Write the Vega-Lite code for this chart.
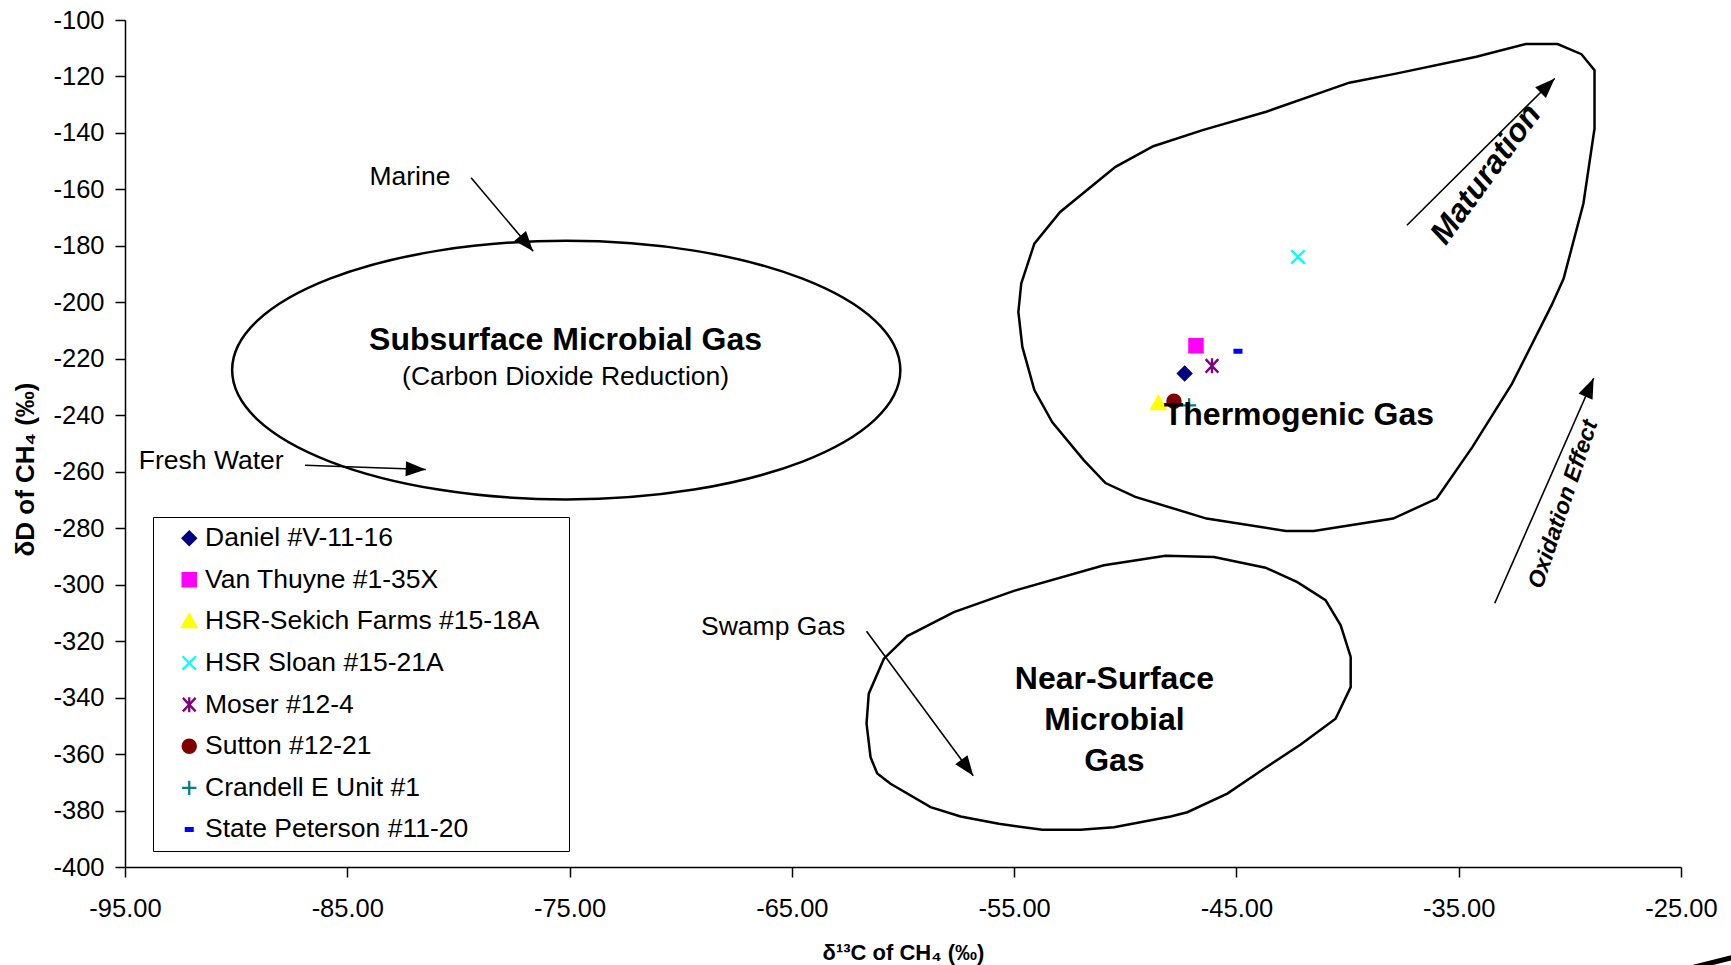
{
  "$schema": "https://vega.github.io/schema/vega-lite/v6.json",
  "autosize": {"type": "none"},
  "padding": {"left": 125, "top": 20, "right": 51, "bottom": 98},
  "width": 1556,
  "height": 847,
  "background": "white",
  "config": {
    "view": {"stroke": null},
    "font": "Liberation Sans",
    "axis": {
      "grid": false,
      "domainColor": "black",
      "domainWidth": 1.5,
      "tickColor": "black",
      "tickWidth": 1.5,
      "tickSize": 10,
      "labelColor": "black",
      "labelFont": "Liberation Sans",
      "labelFontSize": 25.5,
      "labelFlush": false,
      "labelOverlap": false,
      "titleColor": "black",
      "titleFont": "Liberation Sans",
      "titleFontWeight": "bold"
    }
  },
  "datasets": {
    "wells": [
      {"well": "Daniel #V-11-16", "d13C": -47.33, "dD": -225.2},
      {"well": "Van Thuyne #1-35X", "d13C": -46.82, "dD": -215.4},
      {"well": "HSR-Sekich Farms #15-18A", "d13C": -48.51, "dD": -235.8},
      {"well": "HSR Sloan #15-21A", "d13C": -42.23, "dD": -183.9},
      {"well": "Moser #12-4", "d13C": -46.1, "dD": -222.5},
      {"well": "Sutton #12-21", "d13C": -47.81, "dD": -235.0},
      {"well": "Crandell E Unit #1", "d13C": -47.13, "dD": -236.5},
      {"well": "State Peterson #11-20", "d13C": -44.93, "dD": -217.3}
    ],
    "ellipse": [
      {"i": 0, "x": -60.12, "y": -224.0},
      {"i": 1, "x": -61.26, "y": -206.47},
      {"i": 2, "x": -64.52, "y": -191.61},
      {"i": 3, "x": -69.4, "y": -181.69},
      {"i": 4, "x": -75.15, "y": -178.2},
      {"i": 5, "x": -80.9, "y": -181.69},
      {"i": 6, "x": -85.78, "y": -191.61},
      {"i": 7, "x": -89.04, "y": -206.47},
      {"i": 8, "x": -90.18, "y": -224.0},
      {"i": 9, "x": -89.04, "y": -241.53},
      {"i": 10, "x": -85.78, "y": -256.39},
      {"i": 11, "x": -80.9, "y": -266.31},
      {"i": 12, "x": -75.15, "y": -269.8},
      {"i": 13, "x": -69.4, "y": -266.31},
      {"i": 14, "x": -64.52, "y": -256.39},
      {"i": 15, "x": -61.26, "y": -241.53}
    ],
    "outlines": [
      {"region": "Thermogenic", "i": 1, "x": -31.98, "y": -108.5},
      {"region": "Thermogenic", "i": 2, "x": -30.55, "y": -108.5},
      {"region": "Thermogenic", "i": 3, "x": -29.48, "y": -112.1},
      {"region": "Thermogenic", "i": 4, "x": -28.89, "y": -117.8},
      {"region": "Thermogenic", "i": 5, "x": -28.89, "y": -138.4},
      {"region": "Thermogenic", "i": 6, "x": -29.39, "y": -165.0},
      {"region": "Thermogenic", "i": 7, "x": -30.28, "y": -191.6},
      {"region": "Thermogenic", "i": 8, "x": -30.82, "y": -201.0},
      {"region": "Thermogenic", "i": 9, "x": -32.6, "y": -228.8},
      {"region": "Thermogenic", "i": 10, "x": -34.38, "y": -251.2},
      {"region": "Thermogenic", "i": 11, "x": -35.99, "y": -269.5},
      {"region": "Thermogenic", "i": 12, "x": -37.95, "y": -276.6},
      {"region": "Thermogenic", "i": 13, "x": -41.52, "y": -281.0},
      {"region": "Thermogenic", "i": 14, "x": -42.77, "y": -281.0},
      {"region": "Thermogenic", "i": 15, "x": -46.34, "y": -276.6},
      {"region": "Thermogenic", "i": 16, "x": -49.55, "y": -268.9},
      {"region": "Thermogenic", "i": 17, "x": -50.89, "y": -264.0},
      {"region": "Thermogenic", "i": 18, "x": -51.87, "y": -255.9},
      {"region": "Thermogenic", "i": 19, "x": -53.29, "y": -242.4},
      {"region": "Thermogenic", "i": 20, "x": -54.09, "y": -231.1},
      {"region": "Thermogenic", "i": 21, "x": -54.63, "y": -215.8},
      {"region": "Thermogenic", "i": 22, "x": -54.81, "y": -203.4},
      {"region": "Thermogenic", "i": 23, "x": -54.68, "y": -193.3},
      {"region": "Thermogenic", "i": 24, "x": -54.09, "y": -179.2},
      {"region": "Thermogenic", "i": 25, "x": -52.93, "y": -168.0},
      {"region": "Thermogenic", "i": 26, "x": -50.44, "y": -152.0},
      {"region": "Thermogenic", "i": 27, "x": -48.74, "y": -144.7},
      {"region": "Thermogenic", "i": 28, "x": -46.52, "y": -139.0},
      {"region": "Thermogenic", "i": 29, "x": -43.66, "y": -132.5},
      {"region": "Thermogenic", "i": 30, "x": -39.92, "y": -122.2},
      {"region": "Thermogenic", "i": 31, "x": -37.77, "y": -118.9},
      {"region": "Thermogenic", "i": 32, "x": -34.21, "y": -113.0},
      {"region": "NearSurface", "i": 1, "x": -48.19, "y": -289.8},
      {"region": "NearSurface", "i": 2, "x": -46.01, "y": -290.2},
      {"region": "NearSurface", "i": 3, "x": -43.69, "y": -294.0},
      {"region": "NearSurface", "i": 4, "x": -42.26, "y": -299.1},
      {"region": "NearSurface", "i": 5, "x": -40.99, "y": -305.5},
      {"region": "NearSurface", "i": 6, "x": -40.31, "y": -314.4},
      {"region": "NearSurface", "i": 7, "x": -39.86, "y": -325.6},
      {"region": "NearSurface", "i": 8, "x": -39.86, "y": -336.3},
      {"region": "NearSurface", "i": 9, "x": -40.54, "y": -347.5},
      {"region": "NearSurface", "i": 10, "x": -42.11, "y": -356.6},
      {"region": "NearSurface", "i": 11, "x": -43.76, "y": -365.2},
      {"region": "NearSurface", "i": 12, "x": -45.41, "y": -374.0},
      {"region": "NearSurface", "i": 13, "x": -47.21, "y": -380.6},
      {"region": "NearSurface", "i": 14, "x": -47.96, "y": -382.1},
      {"region": "NearSurface", "i": 15, "x": -50.51, "y": -385.9},
      {"region": "NearSurface", "i": 16, "x": -52.01, "y": -386.8},
      {"region": "NearSurface", "i": 17, "x": -53.73, "y": -386.8},
      {"region": "NearSurface", "i": 18, "x": -55.69, "y": -384.7},
      {"region": "NearSurface", "i": 19, "x": -57.41, "y": -382.1},
      {"region": "NearSurface", "i": 20, "x": -58.76, "y": -378.8},
      {"region": "NearSurface", "i": 21, "x": -60.56, "y": -370.5},
      {"region": "NearSurface", "i": 22, "x": -61.16, "y": -366.9},
      {"region": "NearSurface", "i": 23, "x": -61.46, "y": -361.1},
      {"region": "NearSurface", "i": 24, "x": -61.64, "y": -349.2},
      {"region": "NearSurface", "i": 25, "x": -61.54, "y": -338.6},
      {"region": "NearSurface", "i": 26, "x": -60.86, "y": -326.2},
      {"region": "NearSurface", "i": 27, "x": -59.81, "y": -318.2},
      {"region": "NearSurface", "i": 28, "x": -57.71, "y": -309.7},
      {"region": "NearSurface", "i": 29, "x": -55.01, "y": -302.2},
      {"region": "NearSurface", "i": 30, "x": -50.96, "y": -293.1}
    ],
    "arrows": [
      {"arrow": "Marine", "part": 0, "x": -79.43, "y": -155.9},
      {"arrow": "Marine", "part": 1, "x": -76.64, "y": -181.9},
      {"arrow": "Fresh Water", "part": 0, "x": -86.9, "y": -257.7},
      {"arrow": "Fresh Water", "part": 1, "x": -81.47, "y": -259.2},
      {"arrow": "Swamp Gas", "part": 0, "x": -61.64, "y": -316.5},
      {"arrow": "Swamp Gas", "part": 1, "x": -56.84, "y": -367.7},
      {"arrow": "Maturation", "part": 0, "x": -37.33, "y": -172.7},
      {"arrow": "Maturation", "part": 1, "x": -30.68, "y": -120.7},
      {"arrow": "Oxidation", "part": 0, "x": -33.38, "y": -306.6},
      {"arrow": "Oxidation", "part": 1, "x": -28.93, "y": -226.9}
    ],
    "corner": [
      {"part": 0, "x": -24.42, "y": -435.5},
      {"part": 1, "x": -22.3, "y": -431.3}
    ],
    "notes": [
      {"text": "Marine", "kind": "note", "x": -82.18, "y": -155.5},
      {"text": "Fresh Water", "kind": "note", "x": -91.12, "y": -256.1},
      {"text": "Swamp Gas", "kind": "note", "x": -65.84, "y": -315.1},
      {"text": "(Carbon Dioxide Reduction)", "kind": "note", "x": -75.18, "y": -226.4},
      {"text": "Subsurface Microbial Gas", "kind": "region", "x": -75.18, "y": -213.4},
      {"text": "Thermogenic Gas", "kind": "region", "x": -42.19, "y": -240.0},
      {"text": "Near-Surface", "kind": "region", "x": -50.49, "y": -333.5},
      {"text": "Microbial", "kind": "region", "x": -50.49, "y": -348.0},
      {"text": "Gas", "kind": "region", "x": -50.49, "y": -362.5},
      {"text": "Maturation", "kind": "maturation", "x": -33.78, "y": -154.6},
      {"text": "Oxidation Effect", "kind": "oxidation", "x": -30.3, "y": -271.5}
    ]
  },
  "encoding": {
    "x": {
      "type": "quantitative",
      "scale": {"domain": [-95, -25], "nice": false, "zero": false},
      "axis": {
        "title": "δ¹³C of CH₄ (‰)",
        "titleFontSize": 22,
        "values": [-95, -85, -75, -65, -55, -45, -35, -25],
        "format": ".2f",
        "labelExpr": "replace(datum.label, '\u2212', '-')",
        "labelPadding": 19,
        "titleY": 85,
        "titleBaseline": "middle"
      }
    },
    "y": {
      "type": "quantitative",
      "scale": {"domain": [-400, -100], "nice": false, "zero": false},
      "axis": {
        "title": "δD of CH₄ (‰)",
        "titleFontSize": 26,
        "values": [-400, -380, -360, -340, -320, -300, -280, -260, -240, -220, -200, -180, -160, -140, -120, -100],
        "format": "d",
        "labelExpr": "replace(datum.label, '\u2212', '-')",
        "labelPadding": 11,
        "titleAngle": 270,
        "titleX": -100,
        "titleY": 449,
        "titleAlign": "center",
        "titleBaseline": "middle"
      }
    }
  },
  "layer": [
    {
      "data": {"name": "ellipse"},
      "mark": {"type": "line", "interpolate": "cardinal-closed", "color": "black", "strokeWidth": 2.5},
      "encoding": {
        "x": {"field": "x", "type": "quantitative"},
        "y": {"field": "y", "type": "quantitative"},
        "order": {"field": "i", "type": "quantitative"}
      }
    },
    {
      "data": {"name": "outlines"},
      "mark": {"type": "line", "interpolate": "linear-closed", "color": "black", "strokeWidth": 2.5},
      "encoding": {
        "x": {"field": "x", "type": "quantitative"},
        "y": {"field": "y", "type": "quantitative"},
        "detail": {"field": "region", "type": "nominal"},
        "order": {"field": "i", "type": "quantitative"}
      }
    },
    {
      "data": {"name": "arrows"},
      "mark": {"type": "line", "color": "black", "strokeWidth": 1.6},
      "encoding": {
        "x": {"field": "x", "type": "quantitative"},
        "y": {"field": "y", "type": "quantitative"},
        "detail": {"field": "arrow", "type": "nominal"},
        "order": {"field": "part", "type": "quantitative"}
      }
    },
    {
      "data": {"name": "corner"},
      "mark": {"type": "line", "color": "black", "strokeWidth": 5, "clip": false},
      "encoding": {
        "x": {"field": "x", "type": "quantitative"},
        "y": {"field": "y", "type": "quantitative"},
        "order": {"field": "part", "type": "quantitative"}
      }
    },
    {
      "data": {"name": "arrows"},
      "transform": [{"filter": "datum.part == 1 && datum.arrow == 'Marine'"}],
      "mark": {"type": "point", "shape": "M0,0L-0.38,1L0.38,1Z", "size": 1600, "filled": true, "color": "black", "opacity": 1, "angle": 139.8},
      "encoding": {"x": {"field": "x", "type": "quantitative"}, "y": {"field": "y", "type": "quantitative"}}
    },
    {
      "data": {"name": "arrows"},
      "transform": [{"filter": "datum.part == 1 && datum.arrow == 'Fresh Water'"}],
      "mark": {"type": "point", "shape": "M0,0L-0.38,1L0.38,1Z", "size": 1600, "filled": true, "color": "black", "opacity": 1, "angle": 92},
      "encoding": {"x": {"field": "x", "type": "quantitative"}, "y": {"field": "y", "type": "quantitative"}}
    },
    {
      "data": {"name": "arrows"},
      "transform": [{"filter": "datum.part == 1 && datum.arrow == 'Swamp Gas'"}],
      "mark": {"type": "point", "shape": "M0,0L-0.38,1L0.38,1Z", "size": 1600, "filled": true, "color": "black", "opacity": 1, "angle": 143.6},
      "encoding": {"x": {"field": "x", "type": "quantitative"}, "y": {"field": "y", "type": "quantitative"}}
    },
    {
      "data": {"name": "arrows"},
      "transform": [{"filter": "datum.part == 1 && datum.arrow == 'Maturation'"}],
      "mark": {"type": "point", "shape": "M0,0L-0.38,1L0.38,1Z", "size": 1600, "filled": true, "color": "black", "opacity": 1, "angle": 45.2},
      "encoding": {"x": {"field": "x", "type": "quantitative"}, "y": {"field": "y", "type": "quantitative"}}
    },
    {
      "data": {"name": "arrows"},
      "transform": [{"filter": "datum.part == 1 && datum.arrow == 'Oxidation'"}],
      "mark": {"type": "point", "shape": "M0,0L-0.38,1L0.38,1Z", "size": 1600, "filled": true, "color": "black", "opacity": 1, "angle": 23.75},
      "encoding": {"x": {"field": "x", "type": "quantitative"}, "y": {"field": "y", "type": "quantitative"}}
    },
    {
      "data": {"name": "wells"},
      "mark": {"type": "point", "filled": true, "opacity": 1, "size": 225, "strokeWidth": 2.3},
      "encoding": {
        "x": {"field": "d13C", "type": "quantitative"},
        "y": {"field": "dD", "type": "quantitative"},
        "shape": {
          "field": "well", "type": "nominal",
          "scale": {
            "domain": ["Daniel #V-11-16", "Van Thuyne #1-35X", "HSR-Sekich Farms #15-18A", "HSR Sloan #15-21A", "Moser #12-4", "Sutton #12-21", "Crandell E Unit #1", "State Peterson #11-20"],
            "range": ["M0,-0.88L0.88,0L0,0.88L-0.88,0Z", "M-0.88,-0.88L0.88,-0.88L0.88,0.88L-0.88,0.88Z", "M0,-0.95L0.95,0.75L-0.95,0.75Z", "M-0.9,-0.9L0.9,0.9M-0.9,0.9L0.9,-0.9", "M-0.85,-0.9L0.85,0.9M-0.85,0.9L0.85,-0.9M0,-1L0,1", "M-0.88,0A0.88,0.88,0,1,0,0.88,0A0.88,0.88,0,1,0,-0.88,0Z", "M0,-0.95L0,0.95M-0.95,0L0.95,0", "M-0.45,-0.18L0.45,-0.18L0.45,0.18L-0.45,0.18Z"]
          },
          "legend": {"title": " ", "titleOrient": "right", "titleFontSize": 10, "titlePadding": 22, "orient": "none", "legendX": 28, "legendY": 497, "strokeColor": "black", "fillColor": "white", "padding": 8, "labelFontSize": 26.5, "labelFont": "Liberation Sans", "labelColor": "black", "labelLimit": 600, "symbolSize": 225, "symbolStrokeWidth": 2.3, "rowPadding": 14.6, "symbolOffset": 15, "labelOffset": 2.5}
        },
        "fill": {
          "field": "well", "type": "nominal",
          "scale": {
            "domain": ["Daniel #V-11-16", "Van Thuyne #1-35X", "HSR-Sekich Farms #15-18A", "HSR Sloan #15-21A", "Moser #12-4", "Sutton #12-21", "Crandell E Unit #1", "State Peterson #11-20"],
            "range": ["#000080", "#FF00FF", "#FFFF00", "#00FFFF", "#800080", "#800000", "#008080", "#0000FF"]
          },
          "legend": {"title": " ", "titleOrient": "right", "titleFontSize": 10, "titlePadding": 22, "orient": "none", "legendX": 28, "legendY": 497, "strokeColor": "black", "fillColor": "white", "padding": 8, "labelFontSize": 26.5, "labelFont": "Liberation Sans", "labelColor": "black", "labelLimit": 600, "symbolSize": 225, "symbolStrokeWidth": 2.3, "rowPadding": 14.6, "symbolOffset": 15, "labelOffset": 2.5}
        },
        "stroke": {
          "field": "well", "type": "nominal",
          "scale": {
            "domain": ["Daniel #V-11-16", "Van Thuyne #1-35X", "HSR-Sekich Farms #15-18A", "HSR Sloan #15-21A", "Moser #12-4", "Sutton #12-21", "Crandell E Unit #1", "State Peterson #11-20"],
            "range": ["#000080", "#FF00FF", "#FFFF00", "#00FFFF", "#800080", "#800000", "#008080", "#0000FF"]
          },
          "legend": {"title": " ", "titleOrient": "right", "titleFontSize": 10, "titlePadding": 22, "orient": "none", "legendX": 28, "legendY": 497, "strokeColor": "black", "fillColor": "white", "padding": 8, "labelFontSize": 26.5, "labelFont": "Liberation Sans", "labelColor": "black", "labelLimit": 600, "symbolSize": 225, "symbolStrokeWidth": 2.3, "rowPadding": 14.6, "symbolOffset": 15, "labelOffset": 2.5}
        }
      }
    },
    {
      "data": {"name": "notes"},
      "transform": [{"filter": "datum.kind == 'note'"}],
      "mark": {"type": "text", "font": "Liberation Sans", "fontSize": 26.5, "color": "black", "align": "center", "baseline": "middle"},
      "encoding": {
        "x": {"field": "x", "type": "quantitative"},
        "y": {"field": "y", "type": "quantitative"},
        "text": {"field": "text", "type": "nominal"}
      }
    },
    {
      "data": {"name": "notes"},
      "transform": [{"filter": "datum.kind == 'region'"}],
      "mark": {"type": "text", "font": "Liberation Sans", "fontSize": 32, "fontWeight": "bold", "color": "black", "align": "center", "baseline": "middle"},
      "encoding": {
        "x": {"field": "x", "type": "quantitative"},
        "y": {"field": "y", "type": "quantitative"},
        "text": {"field": "text", "type": "nominal"}
      }
    },
    {
      "data": {"name": "notes"},
      "transform": [{"filter": "datum.kind == 'maturation'"}],
      "mark": {"type": "text", "font": "Liberation Sans", "fontSize": 32, "fontWeight": "bold", "fontStyle": "italic", "color": "black", "align": "center", "baseline": "middle", "angle": 306},
      "encoding": {
        "x": {"field": "x", "type": "quantitative"},
        "y": {"field": "y", "type": "quantitative"},
        "text": {"field": "text", "type": "nominal"}
      }
    },
    {
      "data": {"name": "notes"},
      "transform": [{"filter": "datum.kind == 'oxidation'"}],
      "mark": {"type": "text", "font": "Liberation Sans", "fontSize": 23, "fontWeight": "bold", "fontStyle": "italic", "color": "black", "align": "center", "baseline": "middle", "angle": 288.5},
      "encoding": {
        "x": {"field": "x", "type": "quantitative"},
        "y": {"field": "y", "type": "quantitative"},
        "text": {"field": "text", "type": "nominal"}
      }
    }
  ]
}
